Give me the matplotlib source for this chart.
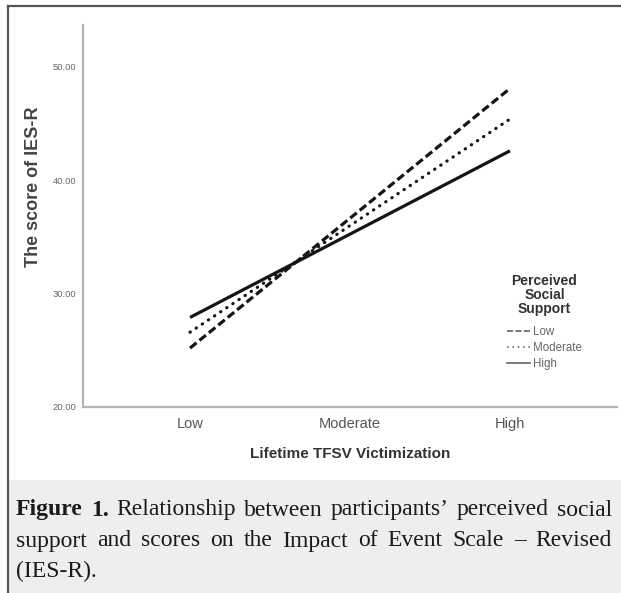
import matplotlib.pyplot as plt
from matplotlib.lines import Line2D
from matplotlib.patches import Rectangle

# data
victimization = ["Low", "Moderate", "High"]
support_levels = ["Low", "Moderate", "High"]
score_low_support = [25.2, 36.65, 48.1]
score_moderate_support = [26.6, 36.0, 45.4]
score_high_support = [27.9, 35.25, 42.6]
y_ticks = [20, 30, 40, 50]

W, H = 621, 593
fig = plt.figure(figsize=(W / 100, H / 100), dpi=100)
fig.patch.set_facecolor("white")


def px(x, y):
    """pixel coords (top-left origin) -> figure fraction"""
    return x / W, 1 - y / H


# outer frame and caption box
fig.add_artist(Line2D([8 / W, 8 / W], [0, 1 - 6 / H], transform=fig.transFigure,
                      color="#555555", lw=1.6))
fig.add_artist(Line2D([8 / W, 1], [1 - 6 / H, 1 - 6 / H], transform=fig.transFigure,
                      color="#555555", lw=1.6))
fig.add_artist(Rectangle((9 / W, 0), 1 - 9 / W, 1 - 480 / H, transform=fig.transFigure,
                         facecolor="#eeeeee", edgecolor="none"))

# axes box: left 83, right 617, top 25, bottom 407 (pixels)
ax = fig.add_axes([83 / W, 1 - 407 / H, (617 - 83) / W, (407 - 25) / H])
ax.set_facecolor("white")
for s in ["top", "right"]:
    ax.spines[s].set_visible(False)
for s in ["left", "bottom"]:
    ax.spines[s].set_color("#b4b4b4")
    ax.spines[s].set_linewidth(1.6)

x = list(range(len(victimization)))
ln_kw = dict(color="#151515", lw=2.3)
ax.plot(x, score_low_support, linestyle=(0, (2.6, 1.2)), dash_capstyle="butt", **ln_kw)
ax.plot(x, score_moderate_support, linestyle=(0, (0.1, 2.2)), dash_capstyle="round",
        **ln_kw)
ax.plot(x, score_high_support, linestyle="-", solid_capstyle="butt", **ln_kw)

ax.set_xlim(-0.669, 2.669)
ax.set_ylim(20, 53.7)
ax.set_xticks(x)
ax.set_xticklabels(victimization, fontsize=10.5, color="#555555", family="Liberation Sans")
ax.set_yticks(y_ticks)
ax.set_yticklabels([f"{v:.2f}" for v in y_ticks], fontsize=6.8, color="#666666",
                   family="Liberation Sans")
ax.tick_params(axis="both", length=0)
ax.tick_params(axis="x", pad=7)
ax.tick_params(axis="y", pad=5)

ax.set_ylabel("The score of IES-R", fontsize=13, fontweight="bold", color="#444444",
              family="Liberation Sans")
ax.yaxis.set_label_coords(-0.077, 0.576)
ax.set_xlabel("Lifetime TFSV Victimization", fontsize=11, fontweight="bold",
              color="#333333", family="Liberation Sans", labelpad=12)

# legend
handles = [Line2D([], [], color="#555555", lw=1.1, linestyle=(0, (4, 1.5))),
           Line2D([], [], color="#555555", lw=1.1, linestyle=(0, (1, 2.5))),
           Line2D([], [], color="#555555", lw=1.1, linestyle="-")]
leg = ax.legend(handles, support_levels, title="Perceived\nSocial\nSupport",
                frameon=False, loc="upper left",
                bbox_to_anchor=px(507, 274), bbox_transform=fig.transFigure,
                prop={"family": "Liberation Sans", "size": 8.3},
                title_fontproperties={"family": "Liberation Sans", "size": 10,
                                      "weight": "bold"},
                handlelength=2.0, handletextpad=0.25, labelspacing=0.34,
                borderpad=0, borderaxespad=0)
leg.get_title().set_color("#333333")
leg.get_title().set_multialignment("center")
leg.get_title().set_linespacing(1.0)
leg._legend_box.align = "center"
leg._legend_box.sep = 7.5  # extra room between title and entries
for t in leg.get_texts():
    t.set_color("#666666")

# caption, justified like the journal layout
cap_lines = [
    [("Figure", "bold"), ("1.", "bold"), ("Relationship", "normal"), ("between", "normal"),
     ("participants\u2019", "normal"), ("perceived", "normal"), ("social", "normal")],
    [("support", "normal"), ("and", "normal"), ("scores", "normal"), ("on", "normal"),
     ("the", "normal"), ("Impact", "normal"), ("of", "normal"), ("Event", "normal"),
     ("Scale", "normal"), ("\u2013", "normal"), ("Revised", "normal")],
    [("(IES-R).", "normal")],
]
cap_y = [510, 541, 571]
x_left, x_right = 16, 612
fig.canvas.draw()
renderer = fig.canvas.get_renderer()
for words, yy in zip(cap_lines, cap_y):
    texts = []
    for w, wt in words:
        t = fig.text(0, px(0, yy)[1], w, fontsize=17, fontweight=wt, color="#1a1a1a",
                     family="Liberation Serif", va="center", ha="left")
        texts.append(t)
    widths = [t.get_window_extent(renderer).width for t in texts]
    if len(texts) > 1 and yy != cap_y[-1]:
        gap = (x_right - x_left - sum(widths)) / (len(texts) - 1)
    else:
        gap = 5
    cur = x_left
    for t, wd in zip(texts, widths):
        t.set_x(cur / W)
        cur += wd + gap

fig.savefig("out.png", dpi=100, facecolor=fig.get_facecolor())
